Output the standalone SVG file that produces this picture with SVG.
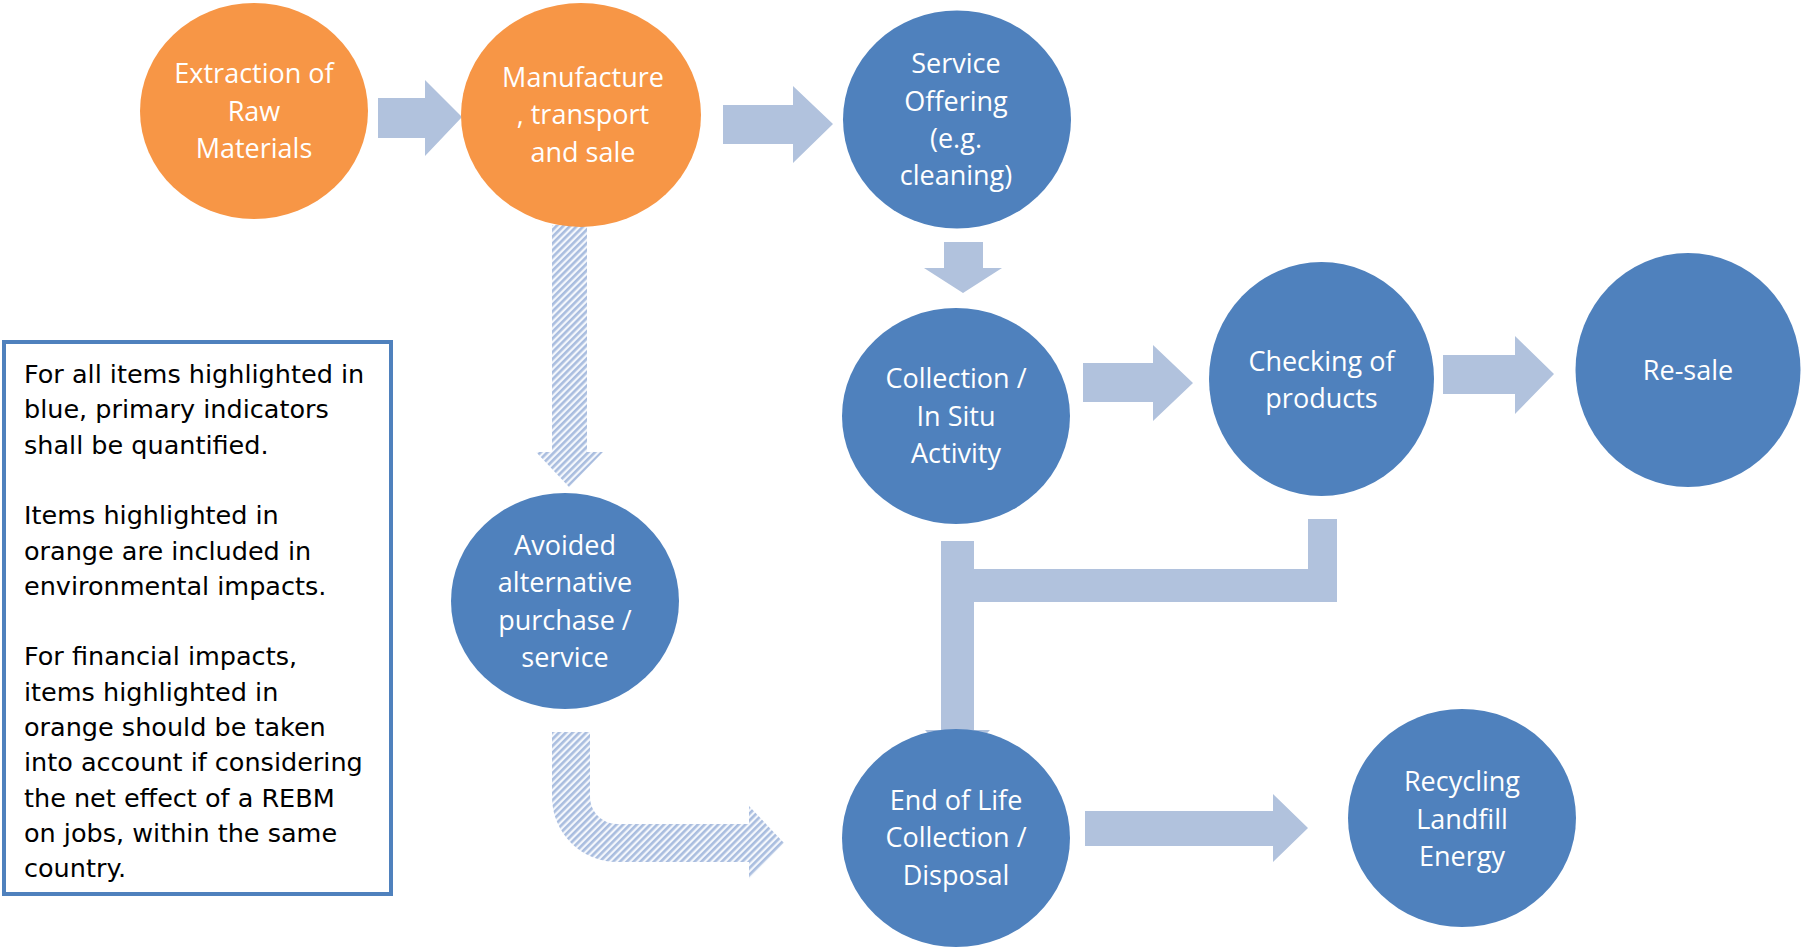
<svg xmlns="http://www.w3.org/2000/svg" width="1802" height="949" viewBox="0 0 1802 949">
<style>
.orange{fill:#F79646}
.blue{fill:#4F81BD}
.arr{fill:#B1C2DD}
.hatch{fill:url(#hatch)}
.lbl{font-family:"Open Sans","Noto Sans",sans-serif;font-size:27px;fill:#FFFFFF;text-anchor:middle}
.leg{font-family:"DejaVu Sans","Noto Sans",sans-serif;font-size:25.5px;fill:#000000}
</style>
<defs>
<pattern id="hatch" patternUnits="userSpaceOnUse" width="4.8" height="4.8" patternTransform="rotate(45)">
<rect width="4.8" height="4.8" fill="#F4F7FC"/>
<rect width="2.6" height="4.8" fill="#A9BDDF"/>
</pattern>
</defs>
<rect width="1802" height="949" fill="#FFFFFF"/>
<g id="connectors">
<polygon class="arr" points="378,98 425,98 425,80 462,117 425,156 425,138 378,138"/>
<polygon class="arr" points="723,105 793,105 793,86 833,124 793,163 793,144 723,144"/>
<polygon class="arr" points="944,242 983,242 983,268 1002,268 963,293 924,268 944,268"/>
<polygon class="arr" points="1083,363 1153,363 1153,345 1193,383 1153,421 1153,402 1083,402"/>
<polygon class="arr" points="1443,355 1515,355 1515,336 1554,374 1515,414 1515,394 1443,394"/>
<polygon class="arr" points="1085,811 1273,811 1273,794 1308,828 1273,862 1273,846 1085,846"/>
<polygon class="arr" points="941,541 974,541 974,730 990,730 957,765 925,730 941,730"/>
<polygon class="arr" points="1308,519 1337,519 1337,602 941,602 941,569 1308,569"/>
<polygon class="hatch" points="552,225 587,225 587,452 603,452 569,487 536,452 552,452"/>
<path class="hatch" d="M552,732 L590,732 L590,797 A27,27 0 0 0 617,824 L749,824 L749,806 L784,843 L749,879 L749,862 L617,862 A65,65 0 0 1 552,797 Z"/>
</g>
<g id="node-extraction">
<ellipse class="orange" cx="254" cy="111" rx="114" ry="108"/>
<text class="lbl" x="254" y="83">Extraction of</text>
<text class="lbl" x="254" y="120.5">Raw</text>
<text class="lbl" x="254" y="158">Materials</text>
</g>
<g id="node-manufacture">
<ellipse class="orange" cx="581" cy="115" rx="120" ry="112"/>
<text class="lbl" x="583" y="86.5">Manufacture</text>
<text class="lbl" x="583" y="124">, transport</text>
<text class="lbl" x="583" y="161.5">and sale</text>
</g>
<g id="node-service">
<ellipse class="blue" cx="957" cy="119.5" rx="114" ry="109"/>
<text class="lbl" x="956" y="73">Service</text>
<text class="lbl" x="956" y="110.5">Offering</text>
<text class="lbl" x="956" y="148">(e.g.</text>
<text class="lbl" x="956" y="185">cleaning)</text>
</g>
<g id="node-collection">
<ellipse class="blue" cx="956" cy="416" rx="114" ry="108"/>
<text class="lbl" x="956" y="388">Collection /</text>
<text class="lbl" x="956" y="425.5">In Situ</text>
<text class="lbl" x="956" y="463">Activity</text>
</g>
<g id="node-checking">
<ellipse class="blue" cx="1321.5" cy="379" rx="112.5" ry="117"/>
<text class="lbl" x="1321.5" y="370.5">Checking of</text>
<text class="lbl" x="1321.5" y="408">products</text>
</g>
<g id="node-resale">
<ellipse class="blue" cx="1688" cy="370" rx="112.5" ry="117"/>
<text class="lbl" x="1688" y="380">Re-sale</text>
</g>
<g id="node-avoided">
<ellipse class="blue" cx="565" cy="601" rx="114" ry="108"/>
<text class="lbl" x="565" y="554.5">Avoided</text>
<text class="lbl" x="565" y="592">alternative</text>
<text class="lbl" x="565" y="629.5">purchase /</text>
<text class="lbl" x="565" y="666.5">service</text>
</g>
<g id="node-endoflife">
<ellipse class="blue" cx="956" cy="838" rx="114" ry="109"/>
<text class="lbl" x="956" y="809.5">End of Life</text>
<text class="lbl" x="956" y="847">Collection /</text>
<text class="lbl" x="956" y="884.5">Disposal</text>
</g>
<g id="node-recycling">
<ellipse class="blue" cx="1462" cy="818" rx="114" ry="109"/>
<text class="lbl" x="1462" y="791">Recycling</text>
<text class="lbl" x="1462" y="829">Landfill</text>
<text class="lbl" x="1462" y="866">Energy</text>
</g>
<g id="legend">
<rect x="4" y="342" width="387" height="552" fill="#FFFFFF" stroke="#4F81BD" stroke-width="4"/>
<text class="leg" x="24" y="383">For all items highlighted in</text>
<text class="leg" x="24" y="418.3">blue, primary indicators</text>
<text class="leg" x="24" y="453.6">shall be quantified.</text>
<text class="leg" x="24" y="524.2">Items highlighted in</text>
<text class="leg" x="24" y="559.5">orange are included in</text>
<text class="leg" x="24" y="594.8">environmental impacts.</text>
<text class="leg" x="24" y="665.4">For financial impacts,</text>
<text class="leg" x="24" y="700.7">items highlighted in</text>
<text class="leg" x="24" y="736">orange should be taken</text>
<text class="leg" x="24" y="771.3">into account if considering</text>
<text class="leg" x="24" y="806.6">the net effect of a REBM</text>
<text class="leg" x="24" y="841.9">on jobs, within the same</text>
<text class="leg" x="24" y="877.2">country.</text>
</g>
</svg>
